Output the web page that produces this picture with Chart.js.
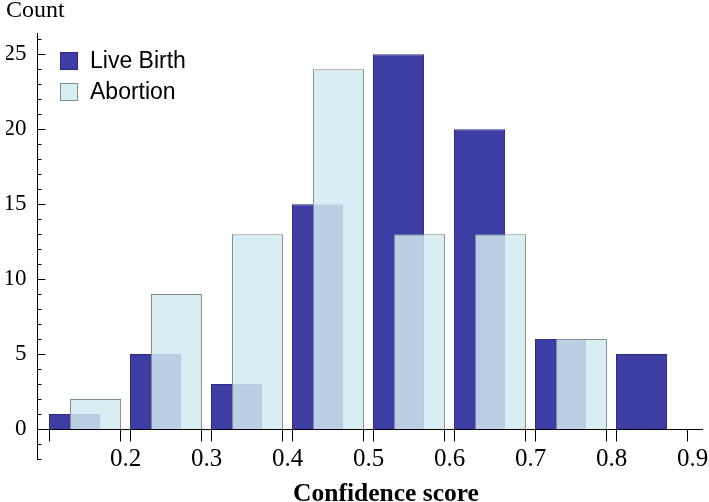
<!DOCTYPE html>
<html>
<head>
<meta charset="utf-8">
<script src="https://cdn.jsdelivr.net/npm/chart.js@4.4.1/dist/chart.umd.min.js"></script>
<style>
  body { margin: 0; background: #fff; }
  #wrap { position: relative; width: 709px; height: 502px; overflow: hidden; }
  #legend { position: absolute; left: 60px; top: 45px; font-family: 'Liberation Sans', Arial, sans-serif; font-size: 23px; color: #000; }
  .item { display: flex; align-items: center; height: 31px; }
  .swatch { width: 16px; height: 16px; margin-right: 12px; border: 1px solid; }
  #xtitle { position: absolute; left: 386px; top: 480px; transform: translateX(-50%); white-space: nowrap;
            font-family: 'Liberation Serif', 'Times New Roman', serif; font-weight: bold; font-size: 25.5px; line-height: 25px; color: #000; }
</style>
</head>
<body>
<div id="wrap"><canvas id="grafico"></canvas><div id="legend"></div><div id="xtitle"></div></div>
<script>
// histogram bins (start of each bin) and counts
const binStarts = [0.1, 0.2, 0.3, 0.4, 0.5, 0.6, 0.7, 0.8];
const binWidth = 0.1;
const liveBirth = [1, 5, 3, 15, 25, 20, 6, 5];
const abortion = [2, 9, 13, 24, 13, 13, 6, 0];
const seriesNames = ["Live Birth", "Abortion"];
const xTickValues = [0.2, 0.3, 0.4, 0.5, 0.6, 0.7, 0.8, 0.9];
const yTickValues = [0, 5, 10, 15, 20, 25];
const yAxisFloor = -2.05; // the y axis line runs a bit below zero
const xTitle = "Confidence score";
const yTitle = "Count";

const serif = "'Liberation Serif', 'Times New Roman', serif";

// Abortion is drawn after Live Birth (on top), plus the small tick marks
const axisMarks = {
  id: "axisMarks",
  beforeDatasetDraw(chart, args) {
    if (args.index === 1) return false;
  },
  afterDatasetsDraw(chart) {
    chart.getDatasetMeta(1).controller.draw();
  },
  afterDraw(chart) {
    const ctx = chart.ctx;
    const y = chart.scales.y;
    const area = chart.chartArea;
    const y0 = Math.round(y.getPixelForValue(0)) + 0.5;
    const lb = chart.getDatasetMeta(0).data;
    const ab = chart.getDatasetMeta(1).data;
    const left = Math.round(area.left) + 0.5;
    ctx.save();
    ctx.strokeStyle = "#000";
    ctx.lineWidth = 1;
    ctx.beginPath();
    // ticks at both edges of each bar group
    lb.forEach((bar, i) => {
      const l = Math.round(bar.x - bar.width / 2) + 0.5;
      const r = Math.round(ab[i].x + ab[i].width / 2) - 0.5;
      ctx.moveTo(l, y0); ctx.lineTo(l, y0 + 12);
      ctx.moveTo(r, y0); ctx.lineTo(r, y0 + 12);
    });
    // y axis continues below zero
    ctx.moveTo(left, area.bottom);
    ctx.lineTo(left, y.getPixelForValue(yAxisFloor));
    // y ticks pointing into the plot, longer every 5
    for (let v = Math.ceil(yAxisFloor); v <= Math.floor(y.max); v++) {
      const py = Math.round(y.getPixelForValue(v)) + 0.5;
      ctx.moveTo(left, py);
      ctx.lineTo(left + (v % 5 === 0 ? 8 : 4), py);
    }
    ctx.stroke();
    ctx.restore();
  }
};

const chart = new Chart(document.getElementById("grafico"), {
  type: "bar",
  data: {
    datasets: [
      {
        label: seriesNames[0],
        data: binStarts.map((s, i) => ({ x: s + binWidth / 2, y: liveBirth[i] })),
        backgroundColor: "#3d3da3",
        borderColor: "#2b2b80",
        borderWidth: 1
      },
      {
        label: seriesNames[1],
        data: binStarts.map((s, i) => ({ x: s + binWidth / 2, y: abortion[i] })),
        backgroundColor: "rgba(210,235,240,0.84)",
        borderColor: "#7f9094",
        borderWidth: 1
      }
    ]
  },
  options: {
    responsive: true,
    maintainAspectRatio: false,
    animation: false,
    layout: { padding: { left: 6, right: 7, top: 0, bottom: 31 } },
    datasets: { bar: { categoryPercentage: 0.5185, barPercentage: 2.43 } },
    plugins: {
      legend: { display: false },
      tooltip: { enabled: false },
      title: {
        display: true, text: yTitle, align: "start", color: "#000",
        font: { family: serif, size: 24, weight: "normal", lineHeight: 0.8 },
        padding: { top: 1.5, bottom: 12.3 }
      }
    },
    scales: {
      x: {
        type: "linear",
        offset: false,
        min: 0.0907,
        max: 0.9117,
        z: 1,
        afterFit: s => { s.height = 42; s.paddingLeft = 0; s.paddingRight = 0; },
        grid: { display: false, drawTicks: false, offset: false },
        border: { display: true, color: "#000", width: 1 },
        ticks: {
          padding: 17.5, maxRotation: 0, autoSkip: false, color: "#000",
          font: { family: serif, size: 25, lineHeight: 1 },
          callback: v => v.toFixed(1)
        },
        afterBuildTicks: s => { s.ticks = xTickValues.map(v => ({ value: v })); }
      },
      y: {
        min: 0,
        max: 26.42,
        afterFit: s => { s.width = 31; },
        grid: { display: false, drawTicks: false },
        border: { display: true, color: "#000", width: 1 },
        ticks: {
          padding: 10.5, color: "#000",
          font: { family: serif, size: 23, lineHeight: 1 }
        },
        afterBuildTicks: s => { s.ticks = yTickValues.map(v => ({ value: v })); }
      }
    }
  },
  plugins: [axisMarks]
});

document.getElementById("xtitle").textContent = xTitle;

// legend built from the datasets
const legend = document.getElementById("legend");
chart.data.datasets.forEach(ds => {
  const item = document.createElement("div");
  item.className = "item";
  const sw = document.createElement("span");
  sw.className = "swatch";
  sw.style.background = ds.backgroundColor;
  sw.style.borderColor = ds.borderColor;
  const txt = document.createElement("span");
  txt.textContent = ds.label;
  item.appendChild(sw);
  item.appendChild(txt);
  legend.appendChild(item);
});
</script>
</body>
</html>
